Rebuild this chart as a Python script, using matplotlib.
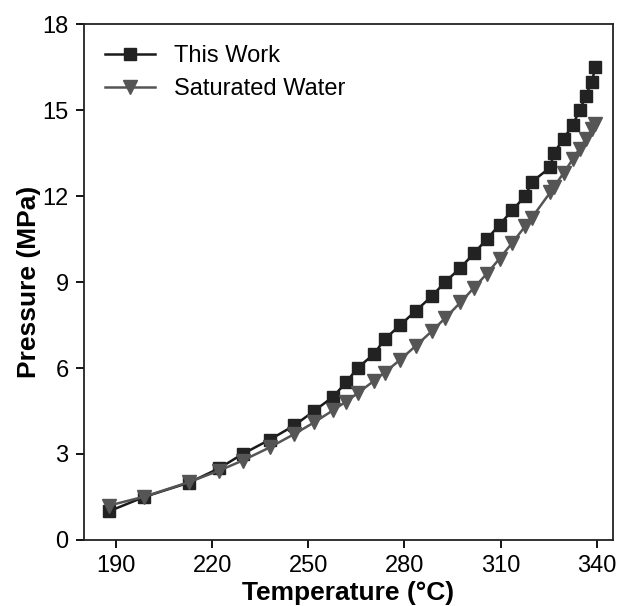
import matplotlib.pyplot as plt

plt.rcParams['font.family'] = ['Liberation Sans', 'DejaVu Sans']

# Temperatures (°C) of the measured points
temperature = [187.8, 198.8, 212.8, 222.2, 229.5, 238.0, 245.7, 251.8,
               257.8, 261.8, 265.4, 270.6, 273.8, 278.7, 283.6, 288.5,
               292.7, 297.5, 301.7, 305.7, 309.7, 313.6, 317.7, 319.8,
               325.5, 326.6, 329.7, 332.6, 334.7, 336.6, 338.5, 339.6]

# This work pressure (MPa)
p_this_work = [1.0, 1.5, 2.0, 2.5, 3.0, 3.5, 4.0, 4.5, 5.0, 5.5, 6.0, 6.5,
               7.0, 7.5, 8.0, 8.5, 9.0, 9.5, 10.0, 10.5, 11.0, 11.5, 12.0,
               12.5, 13.0, 13.5, 14.0, 14.5, 15.0, 15.5, 16.0, 16.5]

# Saturated water pressure (MPa)
p_sat_water = [1.20, 1.51, 2.02, 2.42, 2.77, 3.23, 3.70, 4.10, 4.53, 4.83,
               5.12, 5.56, 5.84, 6.29, 6.78, 7.28, 7.74, 8.29, 8.80, 9.29,
               9.82, 10.36, 10.95, 11.25, 12.13, 12.31, 12.81, 13.30, 13.66,
               13.99, 14.33, 14.53]

x_ticks = [190, 220, 250, 280, 310, 340]
y_ticks = [0, 3, 6, 9, 12, 15, 18]

fig = plt.figure(figsize=(6.17, 6.06), dpi=100)
ax = fig.add_axes([0.136, 0.109, 0.857, 0.851])

ax.plot(temperature, p_this_work, color="#1a1a1a", lw=1.8, marker="s",
        ms=9, mfc="#222222", mec="#222222", label="This Work")
ax.plot(temperature, p_sat_water, color="#555555", lw=1.8, marker="v",
        ms=10.5, mfc="#555555", mec="#555555", label="Saturated Water")

ax.set_xlim(180, 345)
ax.set_ylim(0, 18)
ax.set_xticks(x_ticks)
ax.set_yticks(y_ticks)
ax.tick_params(axis="both", direction="out", length=6, width=1.3,
               labelsize=17, top=False, right=False, pad=5)
for s in ax.spines.values():
    s.set_linewidth(1.3)
    s.set_color("#222222")

ax.set_xlabel("Temperature (°C)", fontsize=19, fontweight="bold", labelpad=3)
ax.set_ylabel("Pressure (MPa)", fontsize=19, fontweight="bold", labelpad=1)

ax.legend(loc="upper left", frameon=False, fontsize=17, handlelength=2.1,
          handletextpad=0.8, borderaxespad=0.5, labelspacing=0.45)

fig.savefig("out.png", dpi=100)
